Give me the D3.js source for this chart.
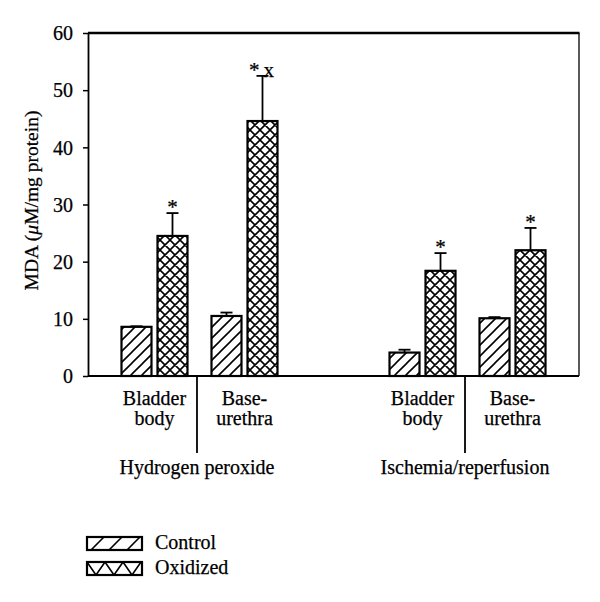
<!DOCTYPE html>
<html><head><meta charset="utf-8">
<script src="https://cdn.jsdelivr.net/npm/d3@7"></script>
<style>html,body{margin:0;padding:0;background:#fff;} text{font-family:"Liberation Serif","Times New Roman",serif;fill:#000;stroke:#000;stroke-width:0.25px;}</style>
</head><body>
<svg id="chart" width="600" height="602"></svg>
<script>
// ---- data ----
const groups = ["Hydrogen peroxide", "Ischemia/reperfusion"];
const tissues = ["Bladder body", "Base-urethra"];
const tissueLines = [["Bladder", "body"], ["Base-", "urethra"]];
const series = ["Control", "Oxidized"];
const controlMean = [8.6, 10.5, 4.1, 10.1];
const controlSE = [0.1, 0.6, 0.5, 0.2];
const oxidizedMean = [24.5, 44.6, 18.4, 22.0];
const oxidizedSE = [4.0, 7.9, 3.1, 3.9];
const oxidizedMarks = ["*", "*x", "*", "*"];
const yTicks = [0, 10, 20, 30, 40, 50, 60];
const yLabel = "MDA (";
const yLabelUnit = "μ";
const yLabelRest = "M/mg protein)";

// ---- layout ----
const svg = d3.select("#chart");
const L = 88, R = 579, T = 33, B = 376;
const FS = 20;
const y = d3.scaleLinear().domain([0, 60]).range([B, T]);
const xg = d3.scalePoint().domain(groups).range([L, R]).padding(0.416);
const xt = d3.scaleBand().domain(tissues).range([-78, 78]).paddingInner(0.2667).paddingOuter(0);
const xs = d3.scaleBand().domain(series).range([0, xt.bandwidth()]).paddingInner(0.1667).paddingOuter(0);

// patterns
const defs = svg.append("defs");
const pc = defs.append("pattern").attr("id", "hatch").attr("patternUnits", "userSpaceOnUse")
  .attr("width", 11).attr("height", 11);
pc.append("rect").attr("width", 11).attr("height", 11).attr("fill", "#fff");
pc.append("path").attr("d", "M0,11 L11,0 M-3,3 L3,-3 M8,14 L14,8").attr("stroke", "#000").attr("stroke-width", 1.6);
const po = defs.append("pattern").attr("id", "cross").attr("patternUnits", "userSpaceOnUse")
  .attr("width", 10).attr("height", 10);
po.append("rect").attr("width", 10).attr("height", 10).attr("fill", "#fff");
po.append("path").attr("d", "M0,10 L10,0 M-3,3 L3,-3 M7,13 L13,7 M0,0 L10,10 M-3,7 L3,13 M7,-3 L13,3").attr("stroke", "#000").attr("stroke-width", 1.6);
// legend patterns
const plc = defs.append("pattern").attr("id", "lhatch").attr("patternUnits", "userSpaceOnUse")
  .attr("x", 87).attr("y", 537).attr("width", 18).attr("height", 14);
plc.append("rect").attr("width", 18).attr("height", 14).attr("fill", "#fff");
plc.append("path").attr("d", "M3,14 L17,0").attr("stroke", "#000").attr("stroke-width", 1.6);
const plo = defs.append("pattern").attr("id", "lcross").attr("patternUnits", "userSpaceOnUse")
  .attr("x", 87).attr("y", 562).attr("width", 18).attr("height", 13);
plo.append("rect").attr("width", 18).attr("height", 13).attr("fill", "#fff");
plo.append("path").attr("d", "M0,0 L9,13 L18,0").attr("stroke", "#000").attr("stroke-width", 1.6).attr("fill", "none");

// build bar records
const bars = [];
groups.forEach((g, gi) => {
  tissues.forEach((t, ti) => {
    const i = gi * 2 + ti;
    bars.push({g, t, s: "Control", v: controlMean[i], e: controlSE[i], mark: ""});
    bars.push({g, t, s: "Oxidized", v: oxidizedMean[i], e: oxidizedSE[i], mark: oxidizedMarks[i]});
  });
});
const bx = d => xg(d.g) + xt(d.t) + xs(d.s);
const bw = xs.bandwidth();

// frame
svg.append("line").attr("x1", L).attr("x2", R + 0.5).attr("y1", T).attr("y2", T).attr("stroke", "#000").attr("stroke-width", 2.5);
svg.append("line").attr("x1", R).attr("x2", R).attr("y1", T).attr("y2", B).attr("stroke", "#000").attr("stroke-width", 1.3);
svg.append("line").attr("x1", L).attr("x2", R).attr("y1", B).attr("y2", B).attr("stroke", "#000").attr("stroke-width", 1.8);

// bars
svg.append("g").selectAll("rect").data(bars).join("rect")
  .attr("x", bx).attr("width", bw)
  .attr("y", d => y(d.v)).attr("height", d => y(0) - y(d.v))
  .attr("fill", d => d.s === "Control" ? "url(#hatch)" : "url(#cross)")
  .attr("stroke", "#000").attr("stroke-width", 2.2);

// error bars
const eg = svg.append("g").attr("stroke", "#000").attr("stroke-width", 1.8);
bars.forEach(d => {
  const cx = bx(d) + bw / 2;
  eg.append("line").attr("x1", cx).attr("x2", cx).attr("y1", y(d.v)).attr("y2", y(d.v + d.e));
  eg.append("line").attr("x1", cx - 6).attr("x2", cx + 6).attr("y1", y(d.v + d.e)).attr("y2", y(d.v + d.e));
});
// significance marks
svg.append("g").selectAll("text").data(bars.filter(d => d.mark)).join("text")
  .attr("x", d => bx(d) + bw / 2 + (d.mark.length > 1 ? -1 : 0))
  .attr("y", d => y(d.v + d.e) + 1)
  .attr("text-anchor", "middle").attr("font-size", 21)
  .text(d => d.mark.length > 1 ? d.mark.split("").join("\u2009") : d.mark);

// y axis
const ya = svg.append("g").attr("transform", `translate(${L},0)`)
  .call(d3.axisLeft(y).tickValues(yTicks).tickSize(5).tickSizeOuter(0).tickPadding(10));
ya.select(".domain").attr("stroke-width", 1.8);
ya.selectAll(".tick line").attr("stroke-width", 1.5);
ya.selectAll(".tick text").attr("font-size", FS).attr("font-family", "Liberation Serif").attr("dy", "0.34em");

// y label
const yl = svg.append("text").attr("transform", `translate(38,${(T + B) / 2 - 4}) rotate(-90)`)
  .attr("text-anchor", "middle").attr("font-size", 19.5);
yl.append("tspan").text(yLabel);
yl.append("tspan").attr("font-style", "italic").text(yLabelUnit);
yl.append("tspan").text(yLabelRest);

// category labels
groups.forEach((g, gi) => {
  tissues.forEach((t, ti) => {
    const cx = xg(g) + xt(t) + xt.bandwidth() / 2;
    tissueLines[ti].forEach((ln, li) => {
      svg.append("text").attr("x", cx).attr("y", 405 + li * 20).attr("text-anchor", "middle")
        .attr("font-size", FS).text(ln);
    });
  });
  const dx = xg(g) - 2.5;
  svg.append("line").attr("x1", dx).attr("x2", dx).attr("y1", B).attr("y2", 453).attr("stroke", "#000").attr("stroke-width", 1.8);
  svg.append("text").attr("x", dx).attr("y", 474).attr("text-anchor", "middle").attr("font-size", FS).text(g);
});

// legend
const lg = svg.append("g");
series.forEach((s, i) => {
  const yy = i === 0 ? 537 : 562;
  lg.append("rect").attr("x", 87).attr("y", yy).attr("width", 55).attr("height", 13)
    .attr("fill", i === 0 ? "url(#lhatch)" : "url(#lcross)").attr("stroke", "#000").attr("stroke-width", 2.2);
  lg.append("text").attr("x", 155).attr("y", yy + 12).attr("font-size", FS).text(s);
});
</script>
</body></html>
